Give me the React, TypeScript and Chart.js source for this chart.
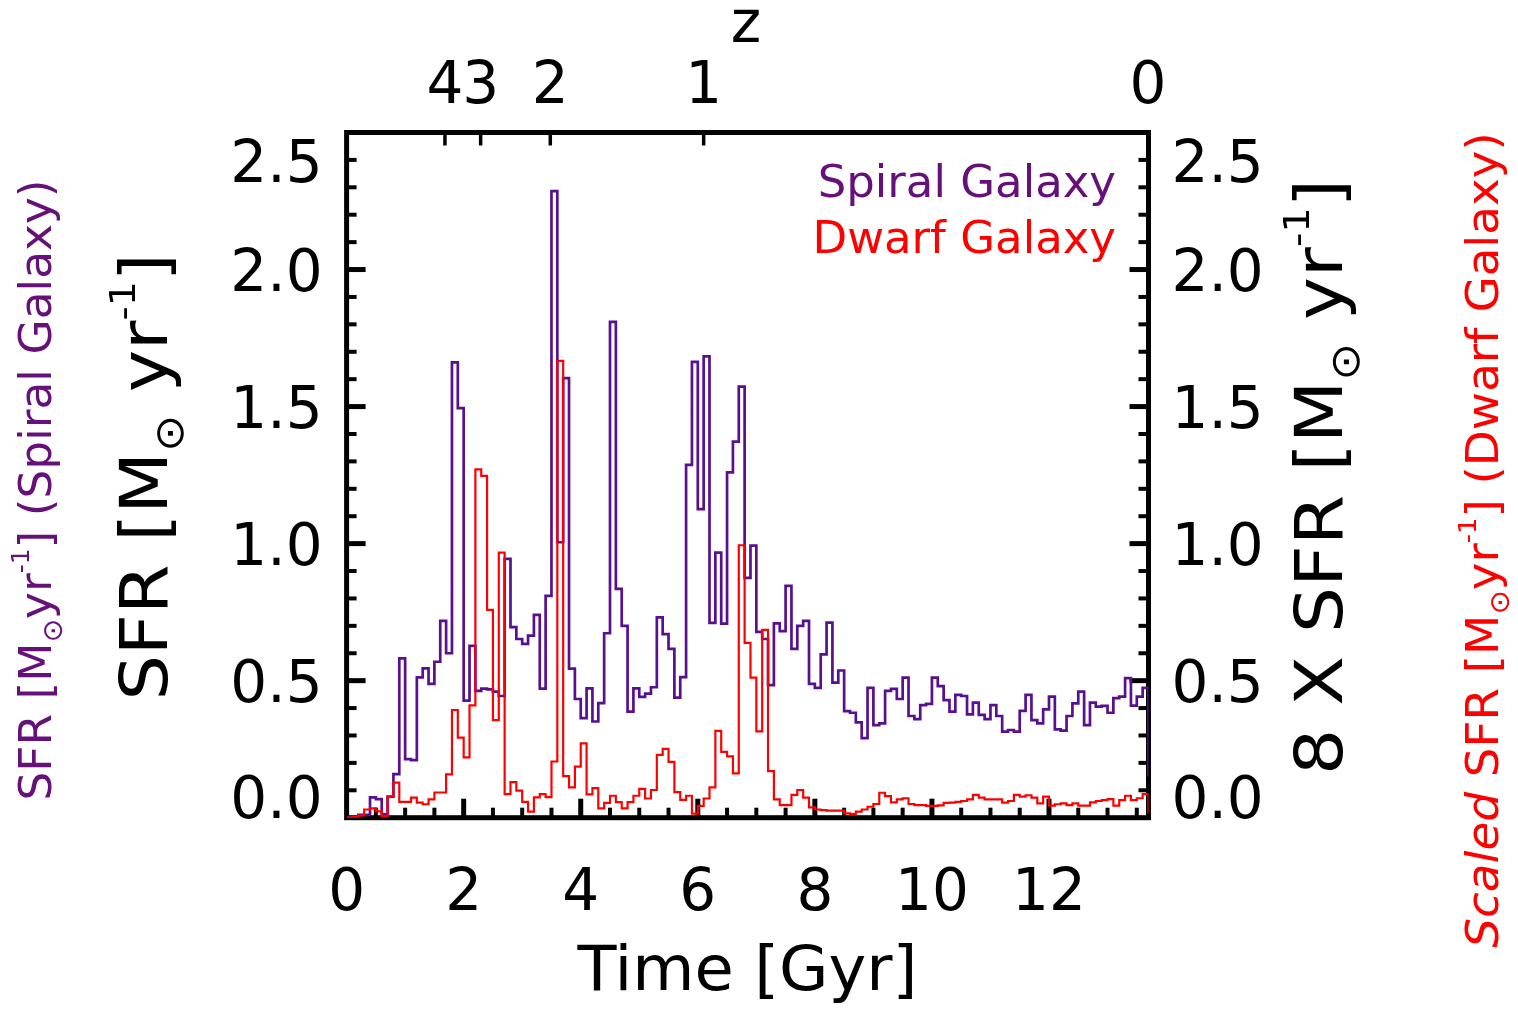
import { useEffect, useRef } from 'react';
import { Chart, registerables } from 'chart.js';

Chart.register(...registerables);

// Star formation histories in 0.1 Gyr bins, first bin starting at t = 0
const BIN_WIDTH_GYR = 0.1;

// Spiral galaxy SFR [Msun/yr]
const SPIRAL_SFR = [
  0.000, 0.005, 0.010, 0.010, 0.074, 0.068, 0.012, 0.077, 0.159, 0.581,
  0.214, 0.210, 0.512, 0.545, 0.488, 0.569, 0.718, 0.600, 1.661, 1.494,
  0.427, 0.627, 0.463, 0.471, 0.468, 0.460, 0.444, 0.944, 0.695, 0.652,
  0.634, 0.664, 0.740, 0.471, 0.809, 2.286, 1.005, 1.604, 0.544, 0.433,
  0.363, 0.472, 0.351, 0.418, 0.673, 1.809, 0.835, 0.700, 0.387, 0.472,
  0.441, 0.453, 0.476, 0.731, 0.670, 0.616, 0.438, 0.513, 1.287, 1.663,
  1.126, 1.683, 0.711, 0.967, 0.708, 1.260, 1.372, 1.573, 0.875, 0.993,
  0.678, 0.652, 0.484, 0.709, 0.681, 0.846, 0.616, 0.700, 0.718, 0.488,
  0.474, 0.596, 0.712, 0.493, 0.537, 0.389, 0.383, 0.348, 0.290, 0.474,
  0.338, 0.344, 0.463, 0.470, 0.433, 0.511, 0.371, 0.360, 0.411, 0.415,
  0.511, 0.480, 0.429, 0.387, 0.448, 0.444, 0.377, 0.420, 0.375, 0.360,
  0.411, 0.371, 0.314, 0.320, 0.314, 0.390, 0.448, 0.356, 0.344, 0.395,
  0.442, 0.322, 0.318, 0.371, 0.417, 0.460, 0.338, 0.420, 0.405, 0.408,
  0.383, 0.436, 0.442, 0.509, 0.409, 0.442, 0.474, 0.150,
];

// Dwarf galaxy SFR, already multiplied by 8 [Msun/yr]
const DWARF_SFR_X8 = [
  0.000, 0.002, 0.008, 0.030, 0.034, 0.023, 0.005, 0.077, 0.128, 0.058,
  0.058, 0.073, 0.055, 0.049, 0.067, 0.092, 0.092, 0.158, 0.393, 0.292,
  0.220, 0.410, 1.271, 1.247, 0.758, 0.356, 0.967, 0.086, 0.130, 0.099,
  0.058, 0.022, 0.074, 0.086, 0.075, 0.205, 1.667, 0.152, 0.111, 0.186,
  0.271, 0.085, 0.108, 0.034, 0.054, 0.080, 0.057, 0.034, 0.057, 0.080,
  0.105, 0.070, 0.101, 0.229, 0.251, 0.204, 0.093, 0.065, 0.080, 0.015,
  0.043, 0.070, 0.111, 0.317, 0.240, 0.224, 0.162, 0.994, 0.638, 0.511,
  0.315, 0.685, 0.170, 0.067, 0.046, 0.046, 0.083, 0.101, 0.073, 0.038,
  0.030, 0.028, 0.026, 0.026, 0.026, 0.016, 0.013, 0.022, 0.030, 0.040,
  0.050, 0.091, 0.079, 0.056, 0.067, 0.071, 0.050, 0.046, 0.046, 0.043,
  0.043, 0.045, 0.054, 0.055, 0.058, 0.061, 0.067, 0.083, 0.073, 0.067,
  0.067, 0.067, 0.055, 0.061, 0.083, 0.077, 0.082, 0.073, 0.052, 0.077,
  0.044, 0.049, 0.052, 0.046, 0.052, 0.044, 0.044, 0.056, 0.061, 0.064,
  0.068, 0.044, 0.064, 0.080, 0.064, 0.071, 0.086, 0.016,
];

const TIME_MAX = 13.7;
const SFR_MAX = 2.5;
const TIME_TICKS = [0, 2, 4, 6, 8, 10, 12];
const TIME_MINOR_STEP = 0.5;
const SFR_TICKS = [0, 0.5, 1.0, 1.5, 2.0, 2.5];
const SFR_MINOR_STEP = 0.1;
const REDSHIFT_LABELS = ['4', '3', '2', '1', '0'];
const REDSHIFT_TIMES = [1.68, 2.29, 3.48, 6.1, 13.69];

const W = 1518;
const H = 1011;
const AREA = { left: 346.6, top: 132.5, right: 1148.5, bottom: 817.7 };

const FONT = "'DejaVu Sans', sans-serif";
const PURPLE_LINE = '#58108f';
const PURPLE_TEXT = '#66107a';
const RED = '#ff0000';

type Piece = { t: string; k?: number; dy?: number; italic?: boolean };

function drawPieces(
  ctx: CanvasRenderingContext2D,
  pieces: Piece[],
  x: number,
  y: number,
  size: number,
  color: string,
  align: 'left' | 'center' | 'right',
  vertical = false,
  stretch = 1,
) {
  ctx.save();
  ctx.translate(x, y);
  if (vertical) ctx.rotate(-Math.PI / 2);
  ctx.scale(stretch, 1);
  ctx.fillStyle = color;
  ctx.textAlign = 'left';
  ctx.textBaseline = 'alphabetic';
  const fonts = pieces.map(
    (p) => `${p.italic ? 'italic ' : ''}${(size * (p.k ?? 1)).toFixed(1)}px ${FONT}`,
  );
  const widths = pieces.map((p, i) => {
    ctx.font = fonts[i];
    return ctx.measureText(p.t).width;
  });
  const total = widths.reduce((a, b) => a + b, 0);
  let cx = align === 'center' ? -total / 2 : align === 'right' ? -total : 0;
  pieces.forEach((p, i) => {
    ctx.font = fonts[i];
    ctx.fillText(p.t, cx, -(p.dy ?? 0) * size);
    cx += widths[i];
  });
  ctx.restore();
}

const sun: Piece = { t: '\u2299', k: 0.62, dy: -0.25 };
const invYear: Piece = { t: '-1', k: 0.55, dy: 0.5 };

function unitPieces(gap: boolean): Piece[] {
  return [{ t: '[M' }, sun, { t: gap ? ' yr' : 'yr' }, invYear, { t: ']' }];
}

function histogramPoints(values: number[]) {
  const pts = values.map((v, i) => ({ x: i * BIN_WIDTH_GYR, y: v }));
  pts.push({ x: values.length * BIN_WIDTH_GYR, y: values[values.length - 1] });
  return pts;
}

const framePlugin = {
  id: 'sfrFrame',
  beforeDatasetsDraw(chart: Chart) {
    const ctx = chart.ctx;
    const xs = chart.scales.x;
    const ys = chart.scales.y;
    const { left, right, top, bottom } = chart.chartArea;
    ctx.save();
    ctx.strokeStyle = '#000';
    ctx.lineCap = 'butt';

    const tick = (x1: number, y1: number, x2: number, y2: number, w: number) => {
      ctx.lineWidth = w;
      ctx.beginPath();
      ctx.moveTo(x1, y1);
      ctx.lineTo(x2, y2);
      ctx.stroke();
    };

    // time ticks along the bottom
    for (let i = 1; i * TIME_MINOR_STEP < TIME_MAX; i++) {
      const t = i * TIME_MINOR_STEP;
      const major = TIME_TICKS.includes(t);
      const px = xs.getPixelForValue(t);
      tick(px, bottom, px, bottom - (major ? 19 : 10), major ? 5 : 4);
    }
    // SFR ticks on both sides
    const nMinor = Math.round(SFR_MAX / SFR_MINOR_STEP);
    for (let i = 1; i < nMinor; i++) {
      const v = i * SFR_MINOR_STEP;
      const major = i % 5 === 0;
      const py = ys.getPixelForValue(v);
      const len = major ? 19 : 10;
      tick(left, py, left + len, py, major ? 5 : 4);
      tick(right, py, right - len, py, major ? 5 : 4);
    }
    // redshift ticks along the top
    REDSHIFT_TIMES.forEach((t) => {
      const px = xs.getPixelForValue(t);
      tick(px, top, px, top + 13, 3.5);
    });

    ctx.lineWidth = 5;
    ctx.lineJoin = 'miter';
    ctx.strokeRect(left, top, right - left, bottom - top);
    ctx.restore();
  },
  afterDraw(chart: Chart) {
    const ctx = chart.ctx;
    const xs = chart.scales.x;
    const ys = chart.scales.y;
    const { left, right, top, bottom } = chart.chartArea;
    const tickSize = 58;
    const cap = 0.729 * tickSize;

    // SFR tick labels, left and right
    SFR_TICKS.forEach((v) => {
      let base = ys.getPixelForValue(v) + cap / 2;
      if (v === SFR_MAX) base = top + 7.5 + cap;
      if (v === 0) base = bottom;
      const label = v.toFixed(1);
      drawPieces(ctx, [{ t: label }], left - 24, base, tickSize, '#000', 'right');
      drawPieces(ctx, [{ t: label }], right + 23, base, tickSize, '#000', 'left');
    });

    // time tick labels
    TIME_TICKS.forEach((t) => {
      drawPieces(ctx, [{ t: String(t) }], xs.getPixelForValue(t), bottom + 92.5, tickSize, '#000', 'center');
    });

    // redshift tick labels
    REDSHIFT_TIMES.forEach((t, i) => {
      drawPieces(ctx, [{ t: REDSHIFT_LABELS[i] }], xs.getPixelForValue(t), top - 29.5, tickSize, '#000', 'center');
    });

    const midX = (left + right) / 2;
    drawPieces(ctx, [{ t: 'z' }], 746, 42, 58, '#000', 'center');
    drawPieces(ctx, [{ t: 'Time [Gyr]' }], midX, 990, 62, '#000', 'center', false, 1.03);

    // legend
    drawPieces(ctx, [{ t: 'Spiral Galaxy' }], 1116, 196.7, 45, PURPLE_TEXT, 'right');
    drawPieces(ctx, [{ t: 'Dwarf Galaxy' }], 1116, 253.3, 45, RED, 'right');

    // vertical axis titles
    drawPieces(ctx, [{ t: 'SFR ' }, ...unitPieces(true)], 167, 477, 65, '#000', 'center', true, 1.1);
    drawPieces(
      ctx,
      [{ t: 'SFR ' }, ...unitPieces(false), { t: ' (Spiral Galaxy)' }],
      51,
      490,
      45,
      PURPLE_TEXT,
      'center',
      true,
      1.01,
    );
    drawPieces(ctx, [{ t: '8 X SFR ' }, ...unitPieces(true)], 1342, 477, 66, '#000', 'center', true, 1.1);
    drawPieces(
      ctx,
      [{ t: 'Scaled', italic: true }, { t: ' SFR ' }, ...unitPieces(false), { t: ' (Dwarf Galaxy)' }],
      1498,
      540,
      45,
      RED,
      'center',
      true,
      1.04,
    );
  },
};

export default function App() {
  const canvasRef = useRef<HTMLCanvasElement | null>(null);

  useEffect(() => {
    const canvas = canvasRef.current;
    if (!canvas) return;
    const chart = new Chart(canvas, {
      type: 'line',
      data: {
        datasets: [
          {
            label: 'Dwarf Galaxy',
            data: histogramPoints(DWARF_SFR_X8),
            stepped: 'before',
            borderColor: RED,
            borderWidth: 2.2,
            pointRadius: 0,
            fill: false,
          },
          {
            label: 'Spiral Galaxy',
            data: histogramPoints(SPIRAL_SFR),
            stepped: 'before',
            borderColor: PURPLE_LINE,
            borderWidth: 2.7,
            pointRadius: 0,
            fill: false,
          },
        ],
      },
      options: {
        responsive: false,
        animation: false,
        devicePixelRatio: 1,
        events: [],
        layout: {
          padding: {
            left: AREA.left,
            top: AREA.top,
            right: W - AREA.right,
            bottom: H - AREA.bottom,
          },
        },
        scales: {
          x: { type: 'linear', min: 0, max: TIME_MAX, display: false },
          y: { type: 'linear', min: 0, max: SFR_MAX, display: false },
        },
        plugins: {
          legend: { display: false },
          tooltip: { enabled: false },
        },
      },
      plugins: [framePlugin],
    });
    return () => chart.destroy();
  }, []);

  return (
    <div style={{ position: 'fixed', left: 0, top: 0, width: W, height: H, background: '#fff' }}>
      <canvas ref={canvasRef} width={W} height={H} style={{ display: 'block' }} />
    </div>
  );
}
